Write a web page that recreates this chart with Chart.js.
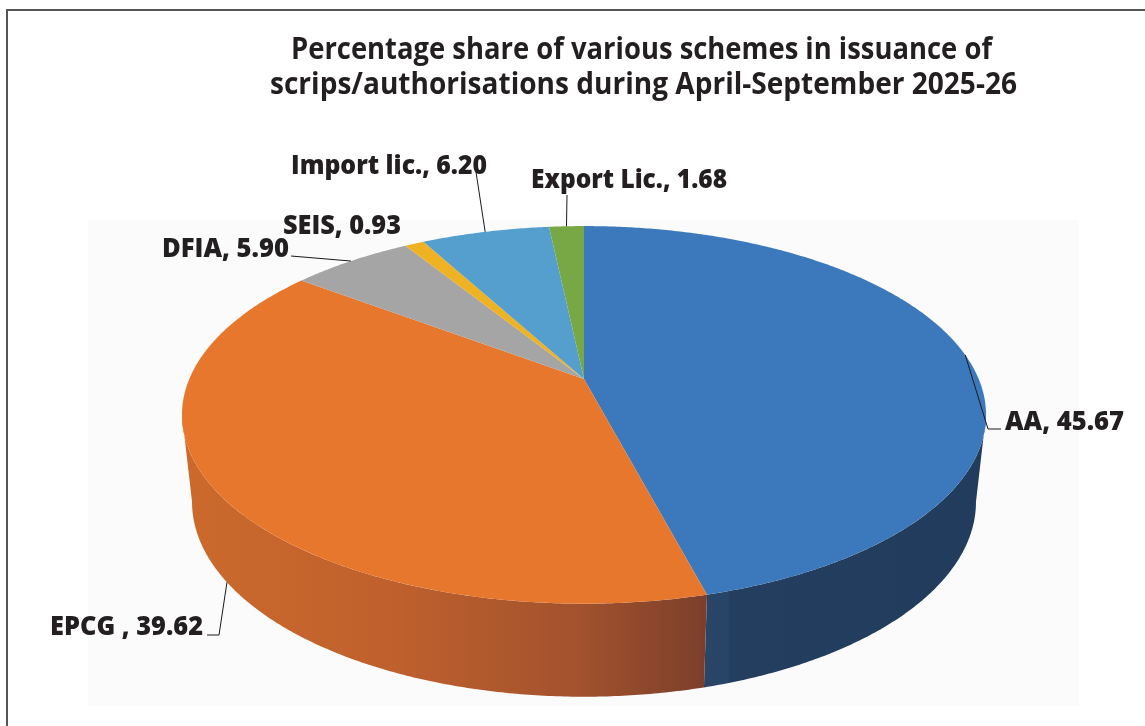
<!DOCTYPE html>
<html>
<head>
<meta charset="utf-8">
<title>Scheme share of scrips/authorisations</title>
<script src="https://cdn.jsdelivr.net/npm/chart.js@4/dist/chart.umd.js"></script>
<style>
    html, body { margin: 0; padding: 0; background: #fff; }
    #wrap { position: relative; width: 1145px; height: 726px; overflow: hidden; }
    #frame { position: absolute; left: 6px; top: 9px; width: 1200px; height: 800px; border: 2px solid #555; }
    canvas { position: absolute; left: 0; top: 0; }
</style>
</head>
<body>
<div id="wrap">
    <div id="frame"></div>
    <canvas id="shareChart" width="1145" height="726"></canvas>
</div>
<script>
const schemes = ['AA', 'EPCG ', 'DFIA', 'SEIS', 'Import lic.', 'Export Lic.'];
const shares = [45.67, 39.62, 5.90, 0.93, 6.20, 1.68];
const sliceColors = ['#3c79bc', '#e7772d', '#a5a5a5', '#eeb223', '#559fcf', '#78a845'];
const titleLines = [
    'Percentage share of various schemes in issuance of',
    'scrips/authorisations during April-September 2025-26'
];

const FONT = '"Open Sans", "Noto Sans", sans-serif';
const INK = '#231f20';

// tilted disc: stretch of the unit circle, and how much the near edge grows
const TILT = { sx: 394.7, sy: 182, k: 0.19 };
// lower rim of the disc, relative to the middle of the upper rim
const RIM = { midY: 36, dropY: 87, sx: 0.975, sy: 1.032 };

const titleAt = [
    { x: 641.5, y: 59, width: 701 },
    { x: 643.5, y: 94, width: 747 }
];

// text anchors and leader elbows per slice index
const labelAt = [
    { x: 1005, y: 430, width: 119, leader: [[988, 429], [1001, 429]] },
    { x: 50, y: 635, width: 153, leader: [[219, 635], [207, 635]], onRim: true },
    { x: 162, y: 257, width: 127, leader: [[291, 256]] },
    { x: 283, y: 234, width: 118, leader: null },
    { x: 291, y: 174, width: 196, leader: [[476, 172]] },
    { x: 531, y: 188, width: 196, leader: [[567, 195]] }
];

function project(arc, angle) {
    // small pull along the rim on the near side of the disc
    const t = angle + 0.016 * Math.pow(Math.max(0, Math.sin(angle)), 2);
    const w = 1 - TILT.k * Math.sin(t);
    return {
        x: arc.x + TILT.sx * Math.cos(t) / w,
        y: arc.y + TILT.sy * Math.sin(t) / w
    };
}

function projectRim(arc, angle) {
    const p = project(arc, angle);
    const mid = arc.y + RIM.midY;
    return {
        x: arc.x + (p.x - arc.x) * RIM.sx,
        y: mid + RIM.dropY + (p.y - mid) * RIM.sy
    };
}

function wallGradient(ctx, index) {
    if (index === 0) {
        const g = ctx.createLinearGradient(705, 0, 985, 0);
        g.addColorStop(0, '#294669');
        g.addColorStop(0.08, '#284568');
        g.addColorStop(0.09, '#233e5f');
        g.addColorStop(1, '#213c5c');
        return g;
    }
    if (index === 1) {
        const g = ctx.createLinearGradient(185, 0, 707, 0);
        g.addColorStop(0, '#cc6a2c');
        g.addColorStop(0.4, '#bf602d');
        g.addColorStop(0.75, '#a3522d');
        g.addColorStop(1, '#7c3f2b');
        return g;
    }
    return sliceColors[index];
}

// pie slice drawn on the tilted disc instead of a flat circle
class TiltedArc extends Chart.ArcElement {
    drawWall(ctx, index) {
        // the wall shows between the two points where its side edges touch the disc
        const edge = Math.asin(TILT.k);
        const from = Math.max(this.startAngle, edge);
        const to = Math.min(this.endAngle, Math.PI - edge);
        if (from >= to) return;
        const steps = Math.ceil((to - from) * 120);
        ctx.save();
        ctx.fillStyle = wallGradient(ctx, index);
        ctx.beginPath();
        for (let i = 0; i <= steps; i++) {
            const p = project(this, from + (to - from) * i / steps);
            ctx.lineTo(p.x, p.y);
        }
        for (let i = steps; i >= 0; i--) {
            const p = projectRim(this, from + (to - from) * i / steps);
            ctx.lineTo(p.x, p.y);
        }
        ctx.closePath();
        ctx.fill();
        ctx.restore();
    }

    draw(ctx) {
        const { startAngle, endAngle } = this;
        const steps = Math.max(4, Math.ceil((endAngle - startAngle) * 120));
        ctx.save();
        ctx.fillStyle = this.options.backgroundColor;
        ctx.beginPath();
        ctx.moveTo(this.x, this.y);
        for (let i = 0; i <= steps; i++) {
            const p = project(this, startAngle + (endAngle - startAngle) * i / steps);
            ctx.lineTo(p.x, p.y);
        }
        ctx.closePath();
        ctx.fill();
        ctx.restore();
    }
}
TiltedArc.id = 'tiltedArc';
TiltedArc.defaults = Chart.ArcElement.defaults;
TiltedArc.defaultRoutes = Chart.ArcElement.defaultRoutes;

class TiltedPieController extends Chart.PieController {
    draw() {
        const ctx = this.chart.ctx;
        // all walls go down first so the top faces cover the back ones
        this._cachedMeta.data.forEach((arc, i) => arc.drawWall(ctx, i));
        super.draw();
    }
}
TiltedPieController.id = 'tiltedPie';
TiltedPieController.defaults = { ...Chart.PieController.defaults, dataElementType: 'tiltedArc' };
TiltedPieController.overrides = Chart.PieController.overrides;

Chart.register(TiltedArc, TiltedPieController);

const plotBackdrop = {
    id: 'plotBackdrop',
    beforeDatasetsDraw(chart) {
        const ctx = chart.ctx;
        ctx.save();
        ctx.fillStyle = '#fbfbfb';
        ctx.fillRect(88, 220, 991, 486);
        ctx.restore();
    }
};

// heading and callouts, the leaders start at each slice's middle angle
const annotations = {
    id: 'annotations',
    afterDatasetsDraw(chart) {
        const ctx = chart.ctx;
        const arcs = chart.getDatasetMeta(0).data;
        ctx.save();
        ctx.fillStyle = INK;
        ctx.textBaseline = 'alphabetic';

        ctx.font = 'bold 30px ' + FONT;
        ctx.textAlign = 'center';
        titleLines.forEach((line, i) => {
            ctx.fillText(line, titleAt[i].x, titleAt[i].y, titleAt[i].width);
        });

        ctx.textAlign = 'left';
        ctx.font = '800 26px ' + FONT;
        schemes.forEach((name, i) => {
            const spot = labelAt[i];
            ctx.fillText(name + ', ' + shares[i].toFixed(2), spot.x, spot.y, spot.width);
            if (!spot.leader) return;
            const mid = (arcs[i].startAngle + arcs[i].endAngle) / 2;
            const from = spot.onRim ? projectRim(arcs[i], mid) : project(arcs[i], mid);
            ctx.strokeStyle = '#1a1a1a';
            ctx.lineWidth = 1;
            ctx.beginPath();
            ctx.moveTo(from.x, from.y);
            spot.leader.forEach(pt => ctx.lineTo(pt[0], pt[1]));
            ctx.stroke();
        });
        ctx.restore();
    }
};

new Chart(document.getElementById('shareChart'), {
    type: 'tiltedPie',
    data: {
        labels: schemes,
        datasets: [{ data: shares, backgroundColor: sliceColors, borderWidth: 0 }]
    },
    options: {
        responsive: false,
        animation: false,
        layout: { padding: { left: 88, right: 65, top: 220, bottom: 188 } },
        plugins: { legend: { display: false }, tooltip: { enabled: false } }
    },
    plugins: [plotBackdrop, annotations]
});
</script>
</body>
</html>
